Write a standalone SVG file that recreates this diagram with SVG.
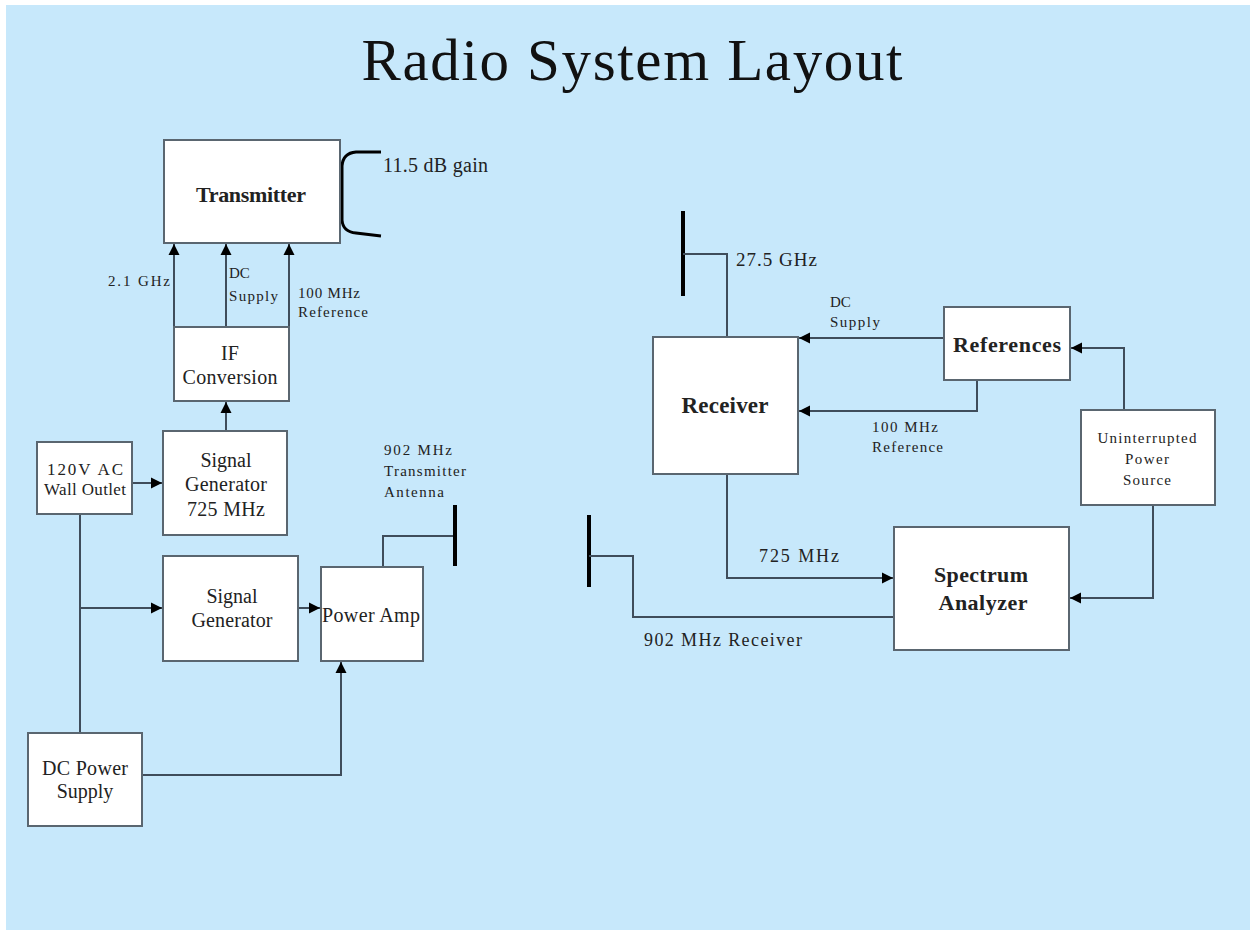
<svg xmlns="http://www.w3.org/2000/svg" width="1253" height="934" viewBox="0 0 1253 934">
<style>
.box{fill:#ffffff;stroke:#5a6670;stroke-width:2}
.ln{fill:none;stroke:#3f4d5b;stroke-width:2}
.ant{fill:none;stroke:#000;stroke-width:4}
.t{font-family:"Liberation Serif","Times New Roman",serif;fill:#222}
.c{text-anchor:middle}
.b{font-weight:bold;font-size:22px}
.m{font-size:20px}
.s{font-size:15px}
.s18{font-size:18px}
.s19{font-size:19px}
.s17{font-size:17px}
.title{font-size:59px;fill:#111}
</style>
<defs>
<marker id="ah" markerUnits="userSpaceOnUse" markerWidth="12" markerHeight="12" viewBox="0 0 12 12" refX="11" refY="6" orient="auto">
<path d="M0,0.5 L11,6 L0,11.5 Z" fill="#000"/>
</marker>
</defs>
<rect x="0" y="0" width="1253" height="934" fill="#ffffff"/>
<rect x="6" y="5" width="1244" height="925" fill="#c7e8fb"/>
<text class="t c title" x="632" y="80" textLength="541">Radio System Layout</text>

<g id="connectors">
<line class="ln" x1="174" y1="327" x2="174" y2="244" marker-end="url(#ah)"/>
<line class="ln" x1="226" y1="327" x2="226" y2="244" marker-end="url(#ah)"/>
<line class="ln" x1="289" y1="327" x2="289" y2="244" marker-end="url(#ah)"/>
<line class="ln" x1="226" y1="431" x2="226" y2="402" marker-end="url(#ah)"/>
<line class="ln" x1="132" y1="483" x2="162" y2="483" marker-end="url(#ah)"/>
<line class="ln" x1="80" y1="514" x2="80" y2="733"/>
<line class="ln" x1="80" y1="608" x2="162" y2="608" marker-end="url(#ah)"/>
<line class="ln" x1="298" y1="608" x2="320" y2="608" marker-end="url(#ah)"/>
<polyline class="ln" points="142,775 341,775 341,662" marker-end="url(#ah)"/>
<polyline class="ln" points="383,567 383,536 455,536"/>
<line class="ant" x1="455" y1="505" x2="455" y2="566"/>
<path d="M381,152 L356,152 Q343,153 342,166 L342,220 Q343,232 356,233 L381,236" fill="none" stroke="#000" stroke-width="3"/>
<line class="ant" x1="683" y1="211" x2="683" y2="296"/>
<polyline class="ln" points="683,254 727,254 727,337"/>
<line class="ln" x1="944" y1="338" x2="799" y2="338" marker-end="url(#ah)"/>
<polyline class="ln" points="977,380 977,411 799,411" marker-end="url(#ah)"/>
<polyline class="ln" points="1124,410 1124,348 1071,348" marker-end="url(#ah)"/>
<polyline class="ln" points="727,474 727,578 893,578" marker-end="url(#ah)"/>
<polyline class="ln" points="1153,505 1153,598 1070,598" marker-end="url(#ah)"/>
<line class="ant" x1="589" y1="515" x2="589" y2="587"/>
<polyline class="ln" points="589,556 633,556 633,617 894,617"/>
</g>

<g id="labels">
<text class="t m" x="383" y="172" textLength="105">11.5 dB gain</text>
<text class="t s" x="108" y="286" textLength="62">2.1 GHz</text>
<text class="t s" x="229" y="278">DC</text>
<text class="t s" x="229" y="301" textLength="49">Supply</text>
<text class="t s" x="298" y="298" textLength="62">100 MHz</text>
<text class="t s" x="298" y="317" textLength="70">Reference</text>
<text class="t s" x="384" y="455" textLength="68">902 MHz</text>
<text class="t s" x="384" y="476" textLength="82">Transmitter</text>
<text class="t s" x="384" y="497" textLength="60">Antenna</text>
<text class="t s19" x="736" y="266" textLength="81">27.5 GHz</text>
<text class="t s" x="830" y="307">DC</text>
<text class="t s" x="830" y="327" textLength="50">Supply</text>
<text class="t s" x="872" y="432" textLength="66">100 MHz</text>
<text class="t s" x="872" y="452" textLength="71">Reference</text>
<text class="t s18" x="759" y="562" textLength="80">725 MHz</text>
<text class="t s18" x="644" y="646" textLength="158">902 MHz Receiver</text>
</g>

<g id="transmitter">
<rect class="box" x="164" y="140" width="176" height="103"/>
<text class="t c b" x="251" y="202" textLength="110">Transmitter</text>
</g>
<g id="if-conversion">
<rect class="box" x="174" y="327" width="115" height="74"/>
<text class="t c m" x="230" y="360">IF</text>
<text class="t c m" x="230" y="384" textLength="95">Conversion</text>
</g>
<g id="signal-generator-725">
<rect class="box" x="163" y="431" width="124" height="104"/>
<text class="t c m" x="226" y="467">Signal</text>
<text class="t c m" x="226" y="491" textLength="82">Generator</text>
<text class="t c m" x="226" y="516" textLength="78">725 MHz</text>
</g>
<g id="wall-outlet">
<rect class="box" x="37" y="442" width="95" height="72"/>
<text class="t c s17" x="85" y="475" textLength="76">120V AC</text>
<text class="t c s17" x="85" y="495" textLength="82">Wall Outlet</text>
</g>
<g id="signal-generator">
<rect class="box" x="163" y="556" width="135" height="105"/>
<text class="t c m" x="232" y="603">Signal</text>
<text class="t c m" x="232" y="627" textLength="81">Generator</text>
</g>
<g id="power-amp">
<rect class="box" x="321" y="567" width="102" height="94"/>
<text class="t c m" x="371" y="622" textLength="98">Power Amp</text>
</g>
<g id="dc-power-supply">
<rect class="box" x="28" y="733" width="114" height="93"/>
<text class="t c m" x="85" y="775" textLength="86">DC Power</text>
<text class="t c m" x="85" y="798">Supply</text>
</g>
<g id="receiver">
<rect class="box" x="653" y="337" width="145" height="137"/>
<text class="t c b" x="725" y="413" style="font-size:23px" textLength="87">Receiver</text>
</g>
<g id="references">
<rect class="box" x="944" y="307" width="126" height="73"/>
<text class="t c b" x="1007" y="352" textLength="108">References</text>
</g>
<g id="ups">
<rect class="box" x="1081" y="410" width="134" height="95"/>
<text class="t c s" x="1147" y="443" textLength="99">Uninterrupted</text>
<text class="t c s" x="1147" y="464" textLength="44">Power</text>
<text class="t c s" x="1147" y="485" textLength="48">Source</text>
</g>
<g id="spectrum-analyzer">
<rect class="box" x="894" y="527" width="175" height="123"/>
<text class="t c b" x="981" y="582" textLength="94">Spectrum</text>
<text class="t c b" x="983" y="610" textLength="89">Analyzer</text>
</g>
</svg>
